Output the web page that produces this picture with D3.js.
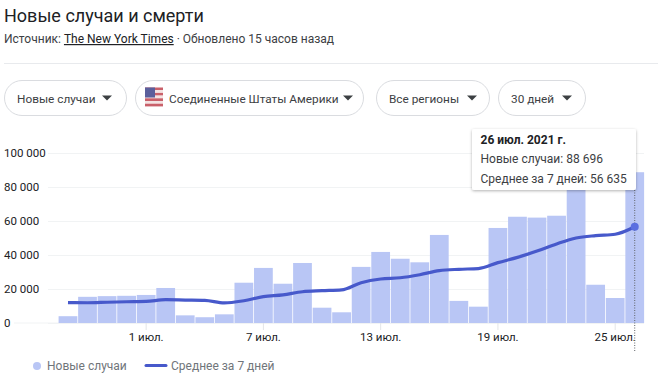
<!DOCTYPE html>
<html>
<head>
<meta charset="utf-8">
<script src="https://cdn.jsdelivr.net/npm/d3@7"></script>
<style>
  html, body { margin: 0; background: #fff; overflow: hidden; }
  text { font-family: Roboto, sans-serif; }
  .grid line { stroke: #f1f3f4; }
  .grid path, .xaxis path { display: none; }
  .xaxis line { stroke: #e3e5e8; }
</style>
</head>
<body>
<svg id="chart" width="658" height="382"></svg>
<script>
'use strict';

const days = ['27 июн.', '28 июн.', '29 июн.', '30 июн.', '1 июл.', '2 июл.', '3 июл.', '4 июл.', '5 июл.', '6 июл.',
    '7 июл.', '8 июл.', '9 июл.', '10 июл.', '11 июл.', '12 июл.', '13 июл.', '14 июл.', '15 июл.', '16 июл.',
    '17 июл.', '18 июл.', '19 июл.', '20 июл.', '21 июл.', '22 июл.', '23 июл.', '24 июл.', '25 июл.', '26 июл.'];
const new_cases = [4000, 15400, 15800, 16000, 16500, 20600, 4500, 3400, 5100, 23700,
    32400, 23100, 35300, 9000, 6300, 33000, 41800, 37800, 35700, 51800,
    13000, 9600, 55900, 62500, 62000, 63100, 82000, 22500, 14700, 88696];
const avg_7d = [12000, 11900, 12200, 12500, 12700, 13700, 13500, 13300, 11800, 13100,
    15500, 16500, 18400, 19000, 19500, 23700, 25900, 26600, 28400, 30800,
    31600, 32000, 35500, 38600, 42300, 46500, 50000, 51400, 52200, 56635];
const x_ticks = ['1 июл.', '7 июл.', '13 июл.', '19 июл.', '25 июл.'];
const y_ticks = [0, 20000, 40000, 60000, 80000, 100000];
const filters = ['Новые случаи', 'Соединенные Штаты Америки', 'Все регионы', '30 дней'];
const filter_boxes = [[4, 123, 13, 20], [135, 229, 34, 16], [376, 114, 13, 18], [498, 88, 13, 19]];

const svg = d3.select('#chart');
const fmt = d => String(d).replace(/\B(?=(\d{3})+$)/g, ' ');

// Header
svg.append('text').attr('x', 4).attr('y', 22).attr('font-size', 18).attr('fill', '#202124')
    .text('Новые случаи и смерти');
const sub = svg.append('text').attr('x', 4).attr('y', 43).attr('font-size', 12).attr('fill', '#3c4043');
sub.append('tspan').text('Источник: ');
sub.append('tspan').attr('fill', '#202124').attr('text-decoration', 'underline').text('The New York Times');
sub.append('tspan').text(' · Обновлено 15 часов назад');
svg.append('line').attr('x1', 4).attr('x2', 658).attr('y1', 63.5).attr('y2', 63.5).attr('stroke', '#e8eaed');

// Filter pills
filters.forEach((label, i) => {
    const [bx, bw, tx, caret] = filter_boxes[i];
    const g = svg.append('g').attr('transform', `translate(${bx},80)`);
    g.append('rect').attr('x', 0.5).attr('y', 0.5).attr('width', bw - 1).attr('height', 35).attr('rx', 17.5)
        .attr('fill', '#fff').attr('stroke', '#dadce0');
    g.append('text').attr('x', tx).attr('y', 22.5).attr('font-size', 11.8).attr('fill', '#3c4043').text(label);
    g.append('path').attr('d', `M${bw - caret - 5},15.5h10l-5,5z`).attr('fill', '#3c4043');
});

// Flag
const flag = svg.append('g').attr('transform', 'translate(145,87.5)');
d3.range(7).forEach(i => {
    flag.append('rect').attr('x', 0).attr('y', i * 2.7).attr('width', 18).attr('height', 2.7)
        .attr('fill', i % 2 ? '#f3e3e3' : '#c9606a');
});
flag.append('rect').attr('width', 10).attr('height', 10).attr('fill', '#5a5f9c');

// Chart
const x = d3.scaleBand().domain(days).range([58.2, 644.5]).paddingInner(0.04).paddingOuter(0.02);
const y = d3.scaleLinear().domain([0, 100000]).range([323, 153]);

svg.append('g').attr('class', 'grid').attr('transform', 'translate(644,0)')
    .call(d3.axisLeft(y).tickValues(y_ticks).tickSize(596).tickFormat(''));
svg.append('line').attr('x1', 14).attr('x2', 60).attr('y1', y(0)).attr('y2', y(0)).attr('stroke', '#f1f3f4');

svg.append('g').selectAll('rect').data(new_cases).enter().append('rect')
    .attr('x', (d, i) => x(days[i]))
    .attr('y', d => y(d))
    .attr('width', x.bandwidth())
    .attr('height', d => y(0) - y(d))
    .attr('fill', '#b9c6f5');

svg.append('g').selectAll('text').data(y_ticks).enter().append('text')
    .attr('x', 4).attr('y', d => y(d) + 4)
    .attr('font-size', 11.5).attr('fill', '#202124')
    .text(fmt);

const xaxis = svg.append('g').attr('class', 'xaxis').attr('transform', 'translate(0,323)')
    .call(d3.axisBottom(x).tickValues(x_ticks).tickSize(7).tickPadding(3));
xaxis.selectAll('text').attr('font-size', 11.5).attr('fill', '#202124').attr('font-family', 'Roboto, sans-serif');

const line = d3.line().x((d, i) => x(days[i]) + x.bandwidth() / 2).y(d => y(d)).curve(d3.curveMonotoneX);
svg.append('path').datum(avg_7d).attr('d', line).attr('fill', 'none')
    .attr('stroke', '#4759cb').attr('stroke-width', 3.2).attr('stroke-linejoin', 'round');

// Hover marker
const hover_x = x(days[29]) + x.bandwidth() / 2;
svg.append('line').attr('x1', hover_x).attr('x2', hover_x).attr('y1', 190).attr('y2', 351)
    .attr('stroke', '#5f6368').attr('stroke-dasharray', '1,1.5');
svg.append('circle').attr('cx', hover_x).attr('cy', y(avg_7d[29])).attr('r', 4).attr('fill', '#5a6fe0');

// Tooltip
const defs = svg.append('defs');
const blur = defs.append('filter').attr('id', 'shadow').attr('x', '-10%').attr('y', '-10%').attr('width', '120%').attr('height', '125%');
blur.append('feDropShadow').attr('dx', 0).attr('dy', 1).attr('stdDeviation', 1.5).attr('flood-color', '#000').attr('flood-opacity', 0.3);
const tip = svg.append('g').attr('transform', 'translate(472,129)');
tip.append('rect').attr('width', 164).attr('height', 61).attr('rx', 2).attr('fill', '#fff').attr('filter', 'url(#shadow)');
tip.append('text').attr('x', 8.5).attr('y', 15).attr('font-size', 12).attr('font-weight', 700).attr('fill', '#202124').text('26 июл. 2021 г.');
tip.append('text').attr('x', 8.5).attr('y', 34).attr('font-size', 12).attr('fill', '#3c4043').text('Новые случаи: ' + fmt(new_cases[29]));
tip.append('text').attr('x', 8.5).attr('y', 54).attr('font-size', 12).attr('fill', '#3c4043').text('Среднее за 7 дней: ' + fmt(avg_7d[29]));

// Legend
svg.append('circle').attr('cx', 37).attr('cy', 366).attr('r', 4).attr('fill', '#b9c6f5');
svg.append('text').attr('x', 47).attr('y', 370).attr('font-size', 12).attr('fill', '#70757a').text('Новые случаи');
svg.append('line').attr('x1', 146).attr('x2', 166).attr('y1', 365.5).attr('y2', 365.5)
    .attr('stroke', '#4759cb').attr('stroke-width', 3).attr('stroke-linecap', 'round');
svg.append('text').attr('x', 171).attr('y', 370).attr('font-size', 12).attr('fill', '#70757a').text('Среднее за 7 дней');
</script>
</body>
</html>
